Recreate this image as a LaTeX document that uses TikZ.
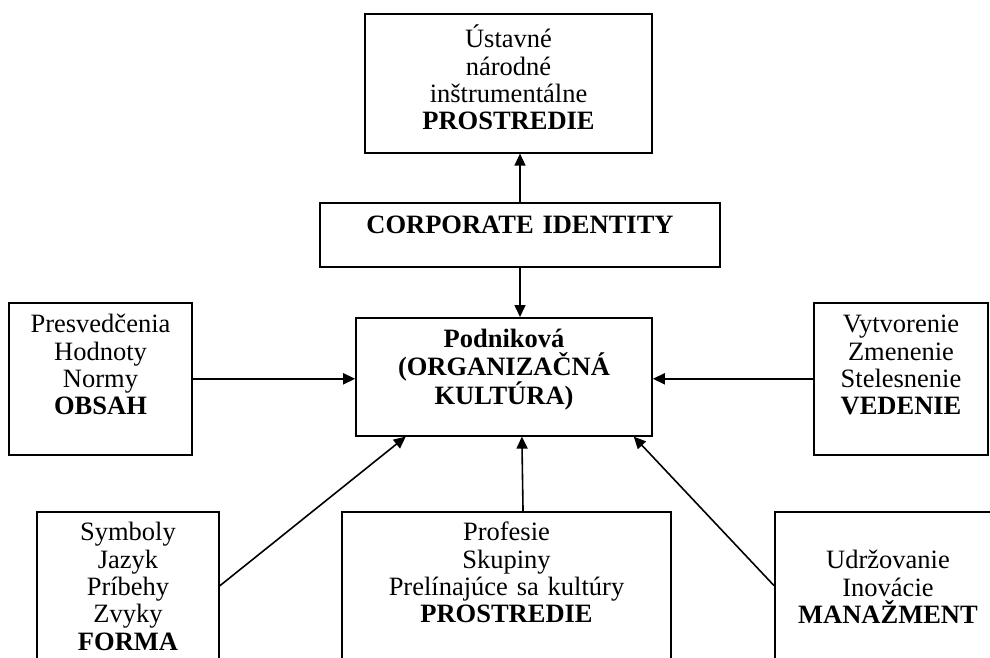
\documentclass[tikz,border=0pt]{standalone}
\usepackage{fontspec}
\setmainfont{Liberation Serif}
\usetikzlibrary{arrows.meta,calc}
\tikzset{
  blok/.style={draw, line width=1.6pt, anchor=north, inner sep=0pt, align=center,
    text height=30pt, font=\fontsize{26.5}{27.3}\selectfont},
  sipka/.style={line width=1.6pt, -{Triangle[length=12pt,width=11pt]}}
}
\begin{document}
\begin{tikzpicture}[x=1pt,y=-1pt]
\useasboundingbox (0,0) rectangle (990,657);
\clip (0,0) rectangle (990,657);
% hore
\node[blok, text width=287pt, text height=34pt, text depth=105pt] (env) at (508.5,13) {%
Ústavné\\národné\\inštrumentálne\\\textbf{PROSTREDIE}};
\node[blok, text width=400pt, text height=31pt, text depth=33pt] (ci) at (520,202) {%
\textbf{CORPORATE IDENTITY}};
% stred
\node[blok, text width=296pt, text depth=88pt] (kult) at (504,317) {%
\textbf{Podniková}\\\textbf{(ORGANIZAČNÁ}\\\textbf{KULTÚRA)}};
\node[blok, text width=183pt, text depth=122pt] (obsah) at (100.5,302) {%
Presvedčenia\\Hodnoty\\Normy\\\textbf{OBSAH}};
\node[blok, text width=174pt, text depth=122pt] (vedenie) at (901,302) {%
Vytvorenie\\Zmenenie\\Stelesnenie\\\textbf{VEDENIE}};
% dole
\node[blok, text width=182pt, text height=29pt, text depth=119pt] (forma) at (128,511) {%
Symboly\\Jazyk\\Príbehy\\Zvyky\\\textbf{FORMA}};
\node[blok, text width=329pt, text height=29pt, text depth=119pt] (prostr) at (506.5,511) {%
Profesie\\Skupiny\\Prelínajúce sa kultúry\\\textbf{PROSTREDIE}};
\node[blok, text width=226pt, text height=57pt, text depth=91pt] (manaz) at (888,511) {%
Udržovanie\\Inovácie\\\textbf{MANAŽMENT}};
% sipky
\draw[sipka] (ci.north) -- (ci.north |- env.south);
\draw[sipka] (ci.south) -- (ci.south |- kult.north);
\draw[sipka] (obsah.east) -- (kult.west |- obsah.east);
\draw[sipka] (vedenie.west) -- (kult.east |- vedenie.west);
\draw[sipka] (forma.east) -- ($(kult.south west)!0.17!(kult.south east)$);
\draw[sipka] ($(prostr.north west)!0.55!(prostr.north east)$) -- ($(kult.south west)!0.56!(kult.south east)$);
\draw[sipka] (manaz.west) -- ($(kult.south west)!0.936!(kult.south east)$);
\end{tikzpicture}
\end{document}
